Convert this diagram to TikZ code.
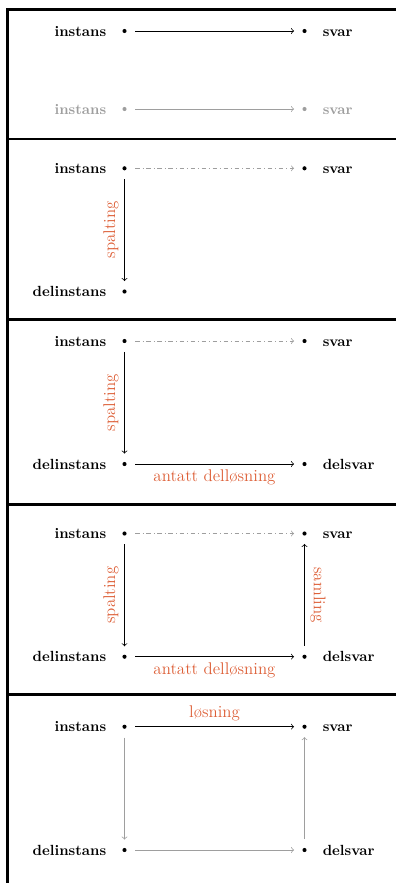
\documentclass[tikz,border=0pt]{standalone}
\usetikzlibrary{arrows}
\definecolor{accent}{RGB}{221,95,55}
\definecolor{faint}{gray}{0.62}
\begin{document}
\begin{tikzpicture}[x=0.68pt,y=-0.68pt,
  dot/.style={circle,fill,inner sep=0pt,minimum size=2.8pt},
  term/.style={font=\bfseries,inner sep=0pt},
  lab/.style={text=accent,font=\fontsize{11.5}{14}\selectfont,inner sep=3.8pt},
  arr/.style={->,line width=0.5pt,shorten <=5.8pt,shorten >=5.5pt},
  border/.style={line width=2pt}]
\clip (0,0) rectangle (396,883);
% panel frames
\draw[border] (7.5,900) -- (7.5,9.5) -- (410,9.5);
\draw[border] (7.5,139) -- (410,139);
\draw[border] (7.5,319.5) -- (410,319.5);
\draw[border] (7.5,504.5) -- (410,504.5);
\draw[border] (7.5,694.5) -- (410,694.5);
% ---------- panel 1
\node[dot] (a1) at (124.5,31) {};
\node[dot] (b1) at (304.5,31) {};
\node[term,anchor=base east] (ta1) at (106.5,36) {instans};
\node[term,anchor=base west] (tb1) at (322.5,36) {svar};
\draw[arr] (a1) -- (b1);
\node[dot,faint] (c1) at (124.5,109) {};
\node[dot,faint] (d1) at (304.5,109) {};
\node[term,text=faint,anchor=base east] (tc1) at (106.5,114) {instans};
\node[term,text=faint,anchor=base west] (td1) at (322.5,114) {svar};
\draw[arr,faint] (c1) -- (d1);
% ---------- panel 2
\node[dot] (a2) at (124.5,168.3) {};
\node[dot] (b2) at (304.5,168.3) {};
\node[dot] (c2) at (124.5,291.5) {};
\node[term,anchor=base east] (ta2) at (106.5,173.3) {instans};
\node[term,anchor=base west] (tb2) at (322.5,173.3) {svar};
\node[term,anchor=base east] (tc2) at (106.5,296.5) {delinstans};
\draw[arr,faint,dash dot] (a2) -- (b2);
\draw[arr] (a2) -- node[lab,midway,rotate=90,anchor=south] {spalting} (c2);
% ---------- panel 3
\node[dot] (a3) at (124.5,341) {};
\node[dot] (b3) at (304.5,341) {};
\node[dot] (c3) at (124.5,464) {};
\node[dot] (d3) at (304.5,464) {};
\node[term,anchor=base east] (ta3) at (106.5,346) {instans};
\node[term,anchor=base west] (tb3) at (322.5,346) {svar};
\node[term,anchor=base east] (tc3) at (106.5,469) {delinstans};
\node[term,anchor=base west] (td3) at (322.5,469) {delsvar};
\draw[arr,faint,dash dot] (a3) -- (b3);
\draw[arr] (a3) -- node[lab,midway,rotate=90,anchor=south] {spalting} (c3);
\draw[arr] (c3) -- node[lab,midway,below] {antatt dell{\o}sning} (d3);
% ---------- panel 4
\node[dot] (a4) at (124.5,533.5) {};
\node[dot] (b4) at (304.5,533.5) {};
\node[dot] (c4) at (124.5,656.7) {};
\node[dot] (d4) at (304.5,656.7) {};
\node[term,anchor=base east] (ta4) at (106.5,538.5) {instans};
\node[term,anchor=base west] (tb4) at (322.5,538.5) {svar};
\node[term,anchor=base east] (tc4) at (106.5,661.7) {delinstans};
\node[term,anchor=base west] (td4) at (322.5,661.7) {delsvar};
\draw[arr,faint,dash dot] (a4) -- (b4);
\draw[arr] (a4) -- node[lab,midway,rotate=90,anchor=south] {spalting} (c4);
\draw[arr] (c4) -- node[lab,midway,below] {antatt dell{\o}sning} (d4);
\draw[arr] (d4) -- node[lab,midway,rotate=-90,anchor=south] {samling} (b4);
% ---------- panel 5
\node[dot] (a5) at (124.5,726.7) {};
\node[dot] (b5) at (304.5,726.7) {};
\node[dot] (c5) at (124.5,850) {};
\node[dot] (d5) at (304.5,850) {};
\node[term,anchor=base east] (ta5) at (106.5,731.7) {instans};
\node[term,anchor=base west] (tb5) at (322.5,731.7) {svar};
\node[term,anchor=base east] (tc5) at (106.5,855) {delinstans};
\node[term,anchor=base west] (td5) at (322.5,855) {delsvar};
\draw[arr] (a5) -- node[lab,midway,above] {l{\o}sning} (b5);
\draw[arr,faint] (a5) -- (c5);
\draw[arr,faint] (c5) -- (d5);
\draw[arr,faint] (d5) -- (b5);
\end{tikzpicture}
\end{document}
